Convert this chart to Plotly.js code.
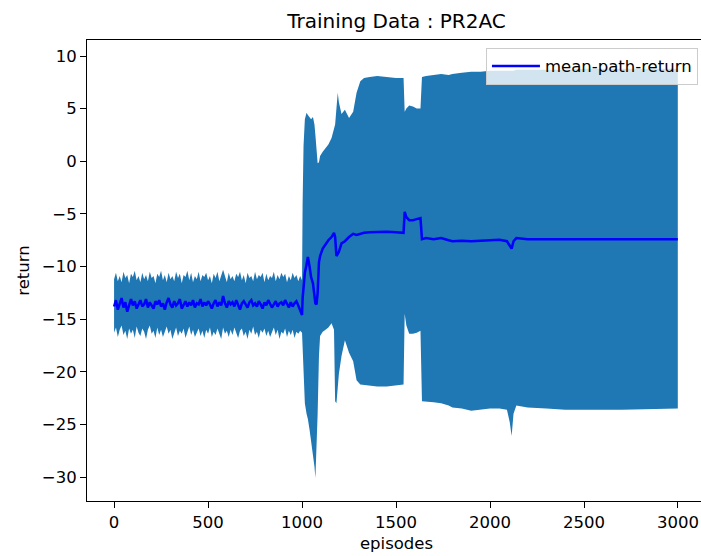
<!DOCTYPE html>
<html>
<head>
<meta charset="utf-8">
<script src="https://cdn.plot.ly/plotly-3.0.1.min.js"></script>
<style>
html, body { margin: 0; padding: 0; overflow: hidden; background: #fff; }
#chart { width: 710px; height: 556px; }
</style>
</head>
<body>
<div id="chart"></div>
<script>
// Episodes 0..1000 sampled every 10 episodes
const episodesEarly = [];
for (let e = 0; e <= 1000; e += 10) episodesEarly.push(e);

const meanEarly = [
-13.8,-13.2,-14.1,-13.5,-13.0,-13.9,-13.4,-14.3,-13.6,-13.1,
-13.7,-13.3,-14.0,-13.5,-13.2,-13.8,-13.6,-13.1,-13.9,-13.4,
-13.7,-14.0,-13.3,-13.6,-13.2,-13.8,-13.5,-14.1,-13.4,-13.0,
-13.6,-13.9,-13.3,-13.7,-13.5,-13.1,-14.0,-13.6,-13.3,-13.8,
-13.4,-13.7,-13.2,-13.9,-13.5,-13.6,-13.1,-13.8,-13.4,-13.7,
-13.3,-13.6,-14.0,-13.5,-13.2,-13.8,-13.4,-13.7,-12.8,-13.5,
-13.9,-13.3,-13.6,-13.4,-13.8,-13.2,-13.7,-14.1,-13.5,-13.3,
-13.6,-13.9,-13.4,-13.2,-13.7,-13.5,-13.8,-13.3,-13.6,-14.0,
-13.4,-13.7,-13.2,-13.5,-13.9,-13.6,-13.3,-13.8,-13.5,-13.4,
-13.7,-13.2,-13.6,-13.9,-13.4,-13.8,-13.5,-13.3,-13.7,-14.2,
-14.6];

const upperEarly = [
-11.2,-10.6,-11.4,-10.9,-11.5,-10.5,-11.1,-10.8,-11.6,-10.7,
-11.0,-10.4,-11.3,-10.9,-11.5,-10.6,-11.2,-10.8,-11.4,-10.5,
-11.1,-10.9,-11.6,-10.7,-11.0,-10.4,-11.3,-10.8,-11.5,-10.6,
-11.2,-10.9,-11.4,-10.5,-11.1,-10.7,-11.6,-10.8,-11.0,-10.4,
-11.3,-10.6,-11.5,-10.9,-11.2,-10.5,-11.4,-10.8,-11.0,-10.6,
-11.3,-10.9,-11.6,-10.7,-11.1,-10.5,-11.4,-10.8,-10.3,-10.9,
-11.5,-10.6,-11.2,-10.9,-11.4,-10.7,-11.0,-10.5,-11.3,-10.8,
-11.6,-10.6,-11.1,-10.9,-11.4,-10.5,-11.2,-10.8,-11.0,-10.6,
-11.5,-10.7,-11.3,-10.9,-11.1,-10.5,-11.4,-10.8,-11.2,-10.6,
-11.0,-10.7,-11.5,-10.9,-11.3,-10.6,-11.1,-10.8,-11.4,-10.9,
-11.3];

const lowerEarly = [
-16.3,-15.8,-16.7,-16.0,-15.6,-16.5,-16.1,-16.9,-15.9,-16.4,
-16.0,-16.8,-15.7,-16.3,-16.6,-15.9,-16.2,-16.9,-16.0,-15.6,
-16.4,-16.1,-16.8,-15.8,-16.5,-16.0,-16.7,-16.2,-15.7,-16.4,
-16.0,-16.9,-16.3,-15.8,-16.6,-16.1,-16.4,-15.9,-16.8,-16.2,
-15.7,-16.5,-16.0,-16.7,-16.3,-15.9,-16.6,-16.1,-16.8,-16.0,
-16.4,-15.8,-16.7,-16.2,-16.5,-15.9,-16.3,-16.9,-15.8,-16.4,
-16.1,-16.7,-16.0,-16.5,-15.8,-16.3,-16.8,-16.1,-15.9,-16.6,
-16.2,-16.9,-16.0,-16.4,-15.7,-16.5,-16.2,-16.8,-16.0,-16.3,
-15.9,-16.6,-16.1,-16.7,-16.3,-15.8,-16.5,-16.0,-16.9,-16.2,
-16.4,-15.9,-16.7,-16.1,-16.5,-16.0,-16.8,-16.2,-16.4,-16.1,
-16.3];

// Episodes after 1000 (hand-read key points)
const episodesLate = [1003,1008,1015,1024,1031,1040,1048,1058,1066,1071,1077,1083,1090,1096,1110,1125,1140,1157,1170,1176,1183,1190,1196,1210,1228,1250,1272,1290,1310,1330,1360,1400,1450,1500,1540,1546,1555,1570,1590,1610,1630,1638,1660,1700,1740,1780,1800,1850,1900,1950,2000,2050,2090,2105,2115,2125,2140,2200,2300,2400,2500,2600,2700,2800,2900,2999];
const meanLate = [-13.0,-11.8,-10.6,-9.8,-9.1,-10.0,-11.0,-11.6,-12.8,-13.5,-13.6,-12.5,-9.6,-9.0,-8.3,-7.9,-7.5,-7.2,-6.8,-7.2,-9.0,-8.8,-8.6,-7.8,-7.6,-7.2,-6.9,-7.0,-6.9,-6.8,-6.75,-6.7,-6.7,-6.75,-6.8,-4.8,-5.3,-5.6,-5.6,-5.5,-5.4,-7.4,-7.3,-7.4,-7.3,-7.5,-7.6,-7.55,-7.6,-7.55,-7.5,-7.45,-7.6,-8.0,-8.3,-7.6,-7.3,-7.4,-7.4,-7.45,-7.45,-7.45,-7.4,-7.4,-7.4,-7.4];
const upperLate = [-4.0,1.5,4.0,4.6,4.4,4.2,4.0,4.2,3.5,2.5,1.0,-0.2,-0.1,0.5,0.9,1.3,1.6,2.2,3.0,3.5,5.0,6.5,5.6,4.5,4.9,4.1,4.7,6.5,7.6,7.9,8.0,8.1,8.0,7.9,7.9,4.7,5.0,5.3,5.2,5.0,5.0,8.0,8.1,8.2,8.3,8.2,8.3,8.4,8.5,8.5,8.6,8.6,8.6,8.6,8.6,8.6,8.7,8.7,8.7,8.7,8.8,8.8,8.8,8.8,8.8,8.8];
const lowerLate = [-18.0,-20.5,-23.0,-24.0,-24.5,-25.5,-26.6,-27.8,-29.0,-30.1,-27.5,-24.0,-18.5,-16.6,-16.2,-16.0,-15.8,-15.4,-16.0,-22.8,-23.0,-21.5,-20.2,-18.5,-17.0,-18.2,-19.0,-20.8,-21.2,-21.2,-21.3,-21.4,-21.4,-21.3,-21.2,-14.5,-15.6,-16.4,-16.4,-16.3,-16.1,-22.8,-22.8,-22.9,-23.0,-23.2,-23.4,-23.5,-23.7,-23.6,-23.5,-23.5,-23.6,-24.8,-26.1,-24.0,-23.2,-23.4,-23.5,-23.6,-23.6,-23.6,-23.6,-23.55,-23.55,-23.5];

const episodes = episodesEarly.concat(episodesLate);
const meanReturn = meanEarly.concat(meanLate);
const upperReturn = upperEarly.concat(upperLate);
const lowerReturn = lowerEarly.concat(lowerLate);

const xTicks = [0, 500, 1000, 1500, 2000, 2500, 3000];
const yTicks = [10, 5, 0, -5, -10, -15, -20, -25, -30];

const band = {
  x: episodes.concat(episodes.slice().reverse()),
  y: upperReturn.concat(lowerReturn.slice().reverse()),
  type: 'scatter', mode: 'lines', fill: 'toself',
  fillcolor: '#1f77b4', line: {width: 0, color: '#1f77b4'},
  showlegend: false, hoverinfo: 'skip'
};
const meanTrace = {
  x: episodes, y: meanReturn, type: 'scatter', mode: 'lines',
  name: 'mean-path-return', line: {color: '#0000ff', width: 2.5}
};

const font = {family: 'DejaVu Sans', size: 16.5, color: '#000'};
const layout = {
  width: 710, height: 556,
  margin: {l: 87, r: 4, t: 40, b: 55.3},
  paper_bgcolor: '#fff', plot_bgcolor: '#fff',
  font: font,
  title: {text: 'Training Data : PR2AC', font: {family: 'DejaVu Sans', size: 20, color: '#000'}, x: 0.5, xref: 'paper', xanchor: 'center', y: 0.962, yanchor: 'middle'},
  xaxis: {
    range: [-144, 3149], tickvals: xTicks, ticktext: xTicks.map(String),
    ticks: 'outside', ticklen: 6, tickcolor: '#000', tickwidth: 1,
    showline: true, linecolor: '#000', linewidth: 1, mirror: true,
    showgrid: false, zeroline: false,
    title: {text: 'episodes', font: font, standoff: 6}
  },
  yaxis: {
    range: [-32.28, 11.52], tickvals: yTicks,
    ticks: 'outside', ticklen: 6, tickcolor: '#000', tickwidth: 1,
    showline: true, linecolor: '#000', linewidth: 1, mirror: true,
    showgrid: false, zeroline: false,
    title: {text: 'return', font: font, standoff: 8}
  },
  legend: {
    x: 0.987, y: 0.983, xanchor: 'right', yanchor: 'top',
    bgcolor: 'rgba(255,255,255,0.8)', bordercolor: '#cccccc', borderwidth: 1,
    font: font, itemwidth: 48
  },
  showlegend: true
};

Plotly.newPlot('chart', [band, meanTrace], layout, {staticPlot: true, displayModeBar: false});
</script>
</body>
</html>
